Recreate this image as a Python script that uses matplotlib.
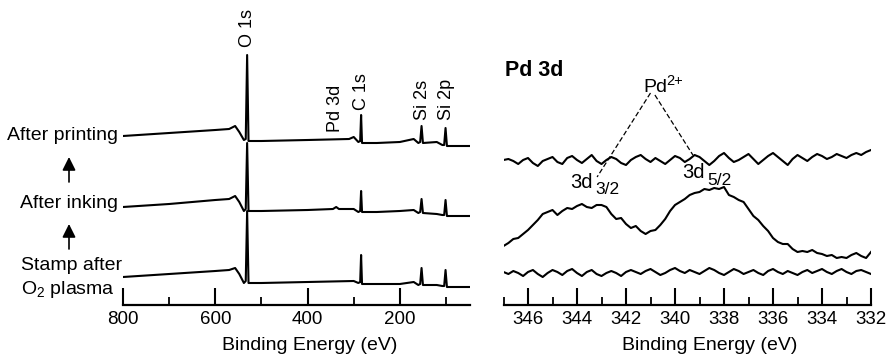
import numpy as np
import matplotlib
matplotlib.use("Agg")
import matplotlib.pyplot as plt
from matplotlib.ticker import MultipleLocator

plt.rcParams['font.family'] = ['Liberation Sans', 'DejaVu Sans']
plt.rcParams['mathtext.fontset'] = 'custom'
plt.rcParams['mathtext.rm'] = 'Liberation Sans'
plt.rcParams['mathtext.it'] = 'Liberation Sans'

# ---- survey spectra (energy in eV, intensity a.u.) ----
survey_printing = [(800, 169), (700, 172), (600, 175), (570, 176), (557, 179), (548, 173),
                   (538, 165), (534, 166), (531, 250), (528, 164), (500, 164), (400, 165),
                   (310, 166), (300, 168), (290, 163), (286, 164), (284, 190), (282, 162),
                   (250, 162), (200, 163), (170, 166), (160, 162), (156, 163), (153, 179),
                   (150, 162), (120, 163), (108, 160), (104, 160), (101, 177), (98, 159),
                   (48, 159)]
survey_inking = [(800, 98), (700, 101), (600, 105), (570, 106), (557, 109), (548, 103),
                 (538, 94), (534, 96), (531, 162), (528, 94), (500, 94), (400, 95),
                 (345, 96), (338, 98), (332, 96), (300, 96), (290, 93), (286, 94),
                 (284, 114), (282, 93), (250, 93), (200, 94), (170, 95), (160, 92),
                 (156, 93), (153, 106), (150, 92), (120, 91), (108, 90), (104, 90),
                 (101, 105), (98, 89), (48, 89)]
survey_stamp = [(800, 28), (700, 31), (600, 34), (570, 35), (557, 37), (548, 31),
                (538, 22), (534, 24), (531, 94), (528, 22), (500, 22), (400, 23),
                (300, 24), (290, 22), (286, 23), (284, 50), (282, 21), (250, 21),
                (200, 21), (170, 23), (160, 20), (156, 21), (153, 37), (150, 20),
                (120, 20), (108, 19), (104, 19), (101, 35), (98, 18), (48, 18)]

peak_names = ["O 1s", "Pd 3d", "C 1s", "Si 2s", "Si 2p"]
peak_pos = [531, 339, 284, 152, 100]
peak_label_y = [258, 173, 195, 185, 185]

survey_ticks_major = [800, 600, 400, 200]

# ---- Pd 3d high resolution (347 -> 332 eV, 0.2 eV steps) ----
pd_energy = np.linspace(347, 332, 76)
pd_printing = [145, 146, 144, 141, 145, 147, 142, 139, 144, 146,
               148, 143, 141, 147, 149, 145, 142, 146, 150, 144,
               141, 145, 148, 146, 142, 140, 145, 148, 150, 146,
               143, 147, 144, 141, 145, 149, 147, 143, 146, 150,
               148, 144, 140, 144, 149, 152, 147, 143, 145, 148,
               151, 146, 141, 145, 149, 152, 148, 144, 140, 146,
               150, 147, 144, 148, 151, 149, 146, 148, 151, 149,
               147, 150, 152, 150, 153, 155]
pd_inking = [59, 62, 66, 67, 71, 75, 80, 85, 91, 93,
             95, 90, 94, 97, 96, 99, 101, 98, 97, 100,
             100, 98, 91, 86, 87, 81, 77, 79, 74, 71,
             74, 75, 80, 86, 94, 100, 103, 106, 110, 112,
             113, 116, 115, 117, 116, 118, 110, 108, 105, 103,
             96, 89, 85, 79, 74, 67, 63, 61, 61, 56,
             53, 54, 53, 55, 52, 51, 49, 50, 47, 48,
             47, 50, 52, 49, 47, 53]
pd_stamp = [33, 31, 34, 32, 29, 33, 35, 31, 28, 32,
            35, 33, 30, 34, 36, 32, 29, 33, 35, 31,
            29, 32, 34, 32, 29, 33, 35, 33, 31, 34,
            36, 33, 30, 32, 35, 37, 34, 32, 35, 33,
            31, 34, 37, 35, 32, 30, 33, 36, 34, 31,
            33, 35, 32, 30, 34, 36, 33, 31, 34, 32,
            30, 33, 35, 32, 34, 36, 33, 31, 34, 36,
            33, 31, 34, 35, 33, 31]

fig = plt.figure(figsize=(8.89, 3.56), dpi=100)
ax1 = fig.add_axes([123 / 889, 51 / 356, 347 / 889, 305 / 356])
ax2 = fig.add_axes([503.5 / 889, 51 / 356, 367.5 / 889, 305 / 356])

for ax in (ax1, ax2):
    for s in ("left", "right", "top"):
        ax.spines[s].set_visible(False)
    ax.spines["bottom"].set_linewidth(1.6)
    ax.set_yticks([])
    ax.set_ylim(0, 305)
    ax.tick_params(axis="x", which="major", direction="in", length=12, width=1.5,
                   labelsize=13.5, pad=4)
    ax.tick_params(axis="x", which="minor", direction="in", length=6, width=1.3)

# survey panel
for spec in (survey_printing, survey_inking, survey_stamp):
    e, i = zip(*spec)
    ax1.plot(e, i, color="black", lw=1.5)
ax1.set_xlim(800, 48)
ax1.set_xticks(survey_ticks_major)
ax1.xaxis.set_minor_locator(MultipleLocator(100))
for name, xp, yp in zip(peak_names, peak_pos, peak_label_y):
    ax1.text(xp, yp, name, rotation=90, ha="center", va="bottom", fontsize=13)
ax1.set_xlabel("Binding Energy (eV)", fontsize=14)
ax1.xaxis.set_label_coords(0.539, -0.105)

fig.text(118 / 889, 1 - 135 / 356, "After printing", ha="right", va="center", fontsize=14)
fig.text(118 / 889, 1 - 204 / 356, "After inking", ha="right", va="center", fontsize=14)
fig.text(21 / 889, 1 - 265 / 356, "Stamp after", ha="left", va="center", fontsize=14)
fig.text(21 / 889, 1 - 289 / 356, "O$_2$ plasma", ha="left", va="center", fontsize=14)
for y0, y1 in ((182, 157), (249, 224)):
    fig.add_artist(matplotlib.patches.FancyArrowPatch(
        (69 / 889, 1 - y0 / 356), (69 / 889, 1 - y1 / 356), transform=fig.transFigure,
        arrowstyle="-|>,head_length=0.8,head_width=0.4", mutation_scale=10,
        color="black", lw=1.2, shrinkA=0, shrinkB=0))

# Pd 3d panel
for spec in (pd_printing, pd_inking, pd_stamp):
    ax2.plot(pd_energy, spec, color="black", lw=1.5)
ax2.set_xlim(347, 332)
ax2.set_xticks(np.arange(346, 331, -2))
ax2.xaxis.set_minor_locator(MultipleLocator(1))
ax2.set_xlabel("Binding Energy (eV)", fontsize=14)
ax2.xaxis.set_label_coords(0.562, -0.105)

ax2.text(346.94, 234, "Pd 3d", fontsize=15.5, fontweight="bold", ha="left", va="center")
ax2.text(341.31, 213, "Pd", fontsize=14, ha="left", va="baseline")
ax2.text(340.37, 220, "2+", fontsize=10.5, ha="left", va="baseline")
ax2.plot([341.0, 343.18], [212, 128], color="black", lw=0.9, ls=(0, (4, 2)))
ax2.plot([340.82, 339.27], [210, 150], color="black", lw=0.9, ls=(0, (4, 2)))
ax2.text(344.29, 117, "3d", fontsize=14.5, ha="left", va="baseline")
ax2.text(343.27, 111, "3/2", fontsize=12.5, ha="left", va="baseline")
ax2.text(339.71, 127, "3d", fontsize=14.5, ha="left", va="baseline")
ax2.text(338.69, 120, "5/2", fontsize=12.5, ha="left", va="baseline")

fig.savefig("out.png", dpi=100)
